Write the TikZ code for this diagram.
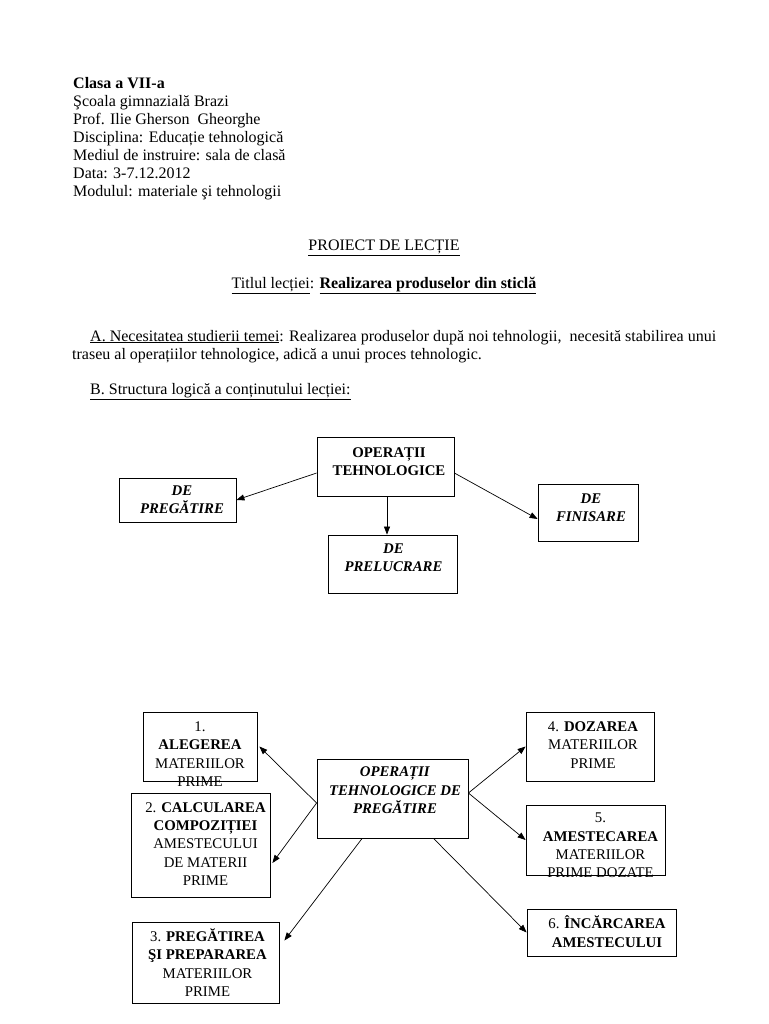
\documentclass[tikz,border=0pt]{standalone}
\usepackage{fontspec}
\setmainfont{Liberation Serif}
\usepackage{tikz}
\usetikzlibrary{positioning}
\usetikzlibrary{calc,arrows.meta}

\begin{document}
\begin{tikzpicture}[x=1pt,y=-1pt]
	\tikzset{
		page text/.style = {inner sep=0, font=\fontsize{16}{18}\selectfont},
		op box/.style = {draw, line width=0.8pt, inner sep=0},
		box text/.style = {inner sep=0, align=center, font=\fontsize{14.8}{18.4}\selectfont},
		op arrow/.style = {line width=0.7pt, -{Triangle[length=8pt,width=6pt]}}
		}
	\useasboundingbox (0,0) rectangle (768,1024);

	% header
	\node [page text, anchor=north west, align=left] (head) at (73,77) {\textbf{Clasa a VII-a}\\
		Şcoala gimnazială Brazi\\
		Prof. Ilie Gherson\ \ Gheorghe\\
		Disciplina: Educație tehnologică\\
		Mediul de instruire: sala de clasă\\
		Data: 3-7.12.2012\\
		Modulul: materiale şi tehnologii};
	\node [page text, anchor=base] (proiect) at (384,250) {\underline{PROIECT DE LECȚIE}};
	\node [page text, anchor=base] (titlu) at (384,288) {\underline{Titlul lecției}: \textbf{\underline{Realizarea produselor din sticlă}}};
	\node [page text, anchor=base west] (necA) at (90,341) {\underline{A. Necesitatea studierii temei}: Realizarea produselor după noi tehnologii,\ \ necesită stabilirea unui};
	\node [page text, anchor=base west] (necB) at (72,359) {traseu al operațiilor tehnologice, adică a unui proces tehnologic.};
	\node [page text, anchor=base west] (struct) at (90,394) {\underline{B. Structura logică a conținutului lecției:}};

	% first diagram
	\node [op box, minimum width=137, minimum height=59] (op) at (385.5,466.5) {};
	\node [op box, minimum width=117, minimum height=44] (preg) at (177.5,500) {};
	\node [op box, minimum width=129, minimum height=58] (prel) at (392.5,564) {};
	\node [op box, minimum width=100, minimum height=57] (fin) at (588,512.5) {};
	\node [box text] (opT) at ($(op)+(3.5,-5)$) {\textbf{OPERAȚII}\\ \textbf{TEHNOLOGICE}};
	\node [box text] (pregT) at ($(preg)+(4.5,-0.5)$) {\textbf{\textit{DE}}\\ \textbf{\textit{PREGĂTIRE}}};
	\node [box text] (prelT) at ($(prel)+(1,-6.5)$) {\textbf{\textit{DE}}\\ \textbf{\textit{PRELUCRARE}}};
	\node [box text] (finT) at ($(fin)+(3,-4.5)$) {\textbf{\textit{DE}}\\ \textbf{\textit{FINISARE}}};

	\draw [op arrow] ([yshift=-6.5pt]op.west) -- (preg.east);
	\draw [op arrow] ([xshift=1.5pt]op.south) -- ([xshift=1.5pt]op.south |- prel.north);
	\draw [op arrow] ([yshift=-6.5pt]op.east) -- ([yshift=-6.5pt]fin.west);

	% second diagram
	\node [op box, minimum width=151, minimum height=79] (prep) at (392.5,798.5) {};
	\node [op box, minimum width=114, minimum height=69] (b1) at (200,746.5) {};
	\node [op box, minimum width=139, minimum height=104] (b2) at (200.5,845) {};
	\node [op box, minimum width=147, minimum height=81] (b3) at (205.5,962.5) {};
	\node [op box, minimum width=128, minimum height=69] (b4) at (590,746.5) {};
	\node [op box, minimum width=139, minimum height=70] (b5) at (595.5,840) {};
	\node [op box, minimum width=149, minimum height=47] (b6) at (601.5,932.5) {};

	\node [box text] (prepT) at ($(prep)+(2.5,-8)$) {\textbf{\textit{OPERAȚII}}\\ \textbf{\textit{TEHNOLOGICE DE}}\\ \textbf{\textit{PREGĂTIRE}}};
	\node [box text] (b1T) at ($(b1)+(0,7.5)$) {1.\\ \textbf{ALEGEREA}\\ MATERIILOR\\ PRIME};
	\node [box text] (b2T) at ($(b2)+(5,-1)$) {2. \textbf{CALCULAREA}\\ \textbf{COMPOZIȚIEI}\\ AMESTECULUI\\ DE MATERII\\ PRIME};
	\node [box text] (b3T) at ($(b3)+(2,0)$) {3. \textbf{PREGĂTIREA}\\ \textbf{ŞI PREPARAREA}\\ MATERIILOR\\ PRIME};
	\node [box text] (b4T) at ($(b4)+(3,-1.5)$) {4. \textbf{DOZAREA}\\ MATERIILOR\\ PRIME};
	\node [box text] (b5T) at ($(b5)+(5,5.5)$) {5.\\ \textbf{AMESTECAREA}\\ MATERIILOR\\ PRIME DOZATE};
	\node [box text] (b6T) at ($(b6)+(5.5,-1)$) {6. \textbf{ÎNCĂRCAREA}\\ \textbf{AMESTECULUI}};

	\draw [op arrow] ([yshift=-4.5pt]prep.west) -- ([xshift=2pt]b1.east);
	\draw [op arrow] ([yshift=-4.5pt]prep.west) -- ([xshift=2pt,yshift=-18pt]b2.east);
	\draw [op arrow] ($(prep.south west)!0.3!(prep.south east)$) -- ([xshift=5pt,yshift=22pt]b3.east);
	\draw [op arrow] ([yshift=5.5pt]prep.east) -- (b4.west);
	\draw [op arrow] ([yshift=5.5pt]prep.east) -- (b5.west);
	\draw [op arrow] ($(prep.south west)!0.77!(prep.south east)$) -- (b6.west);
\end{tikzpicture}
\end{document}
